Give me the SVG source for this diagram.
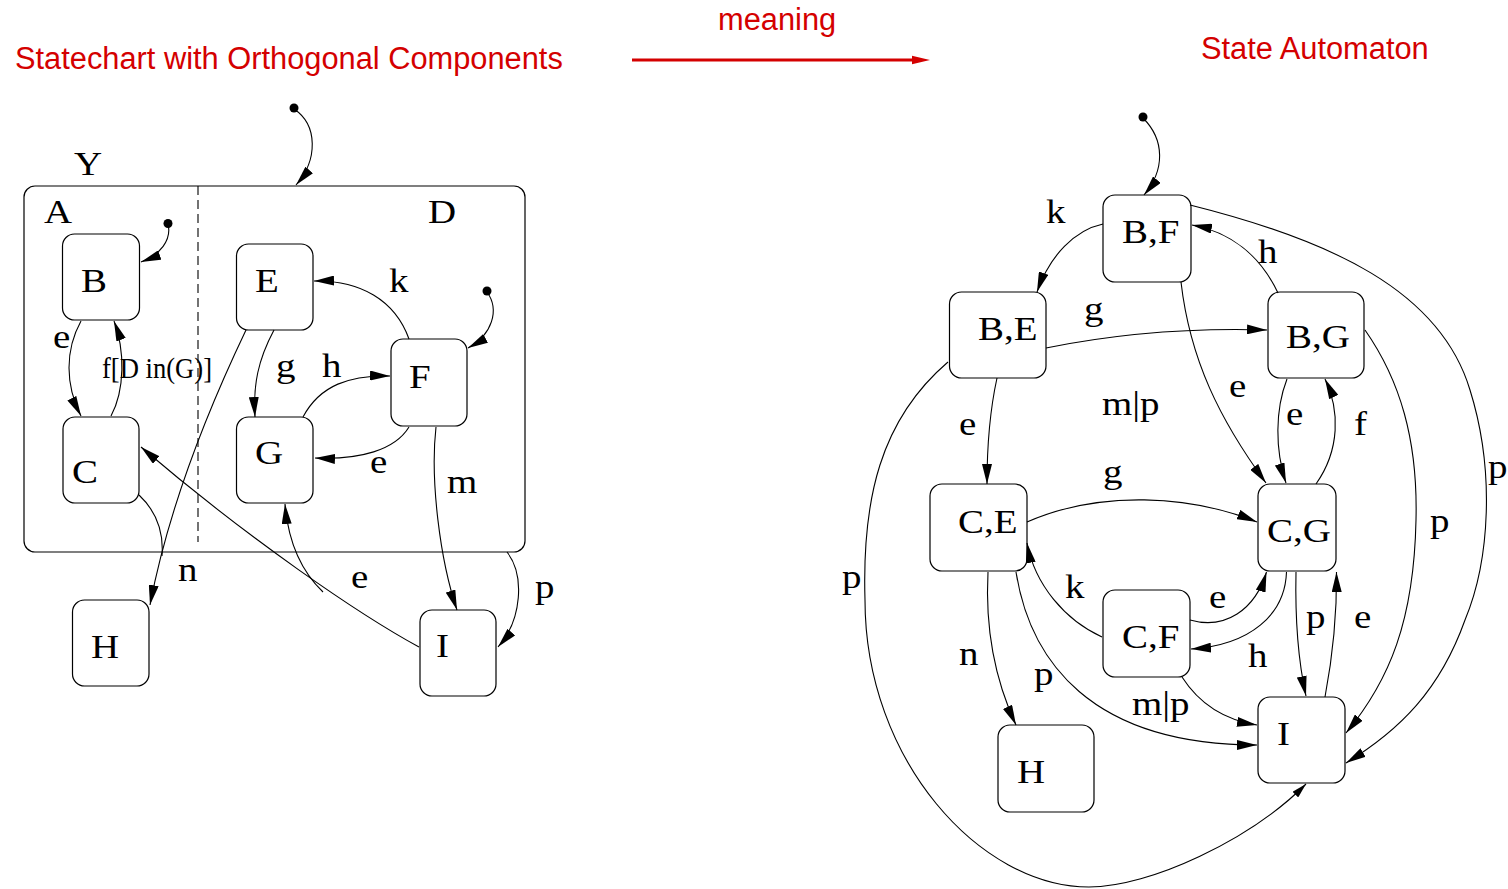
<svg xmlns="http://www.w3.org/2000/svg" width="1508" height="889" viewBox="0 0 1508 889">
<style>
.box{fill:none;stroke:#000;stroke-width:1.2}
.edge{fill:none;stroke:#000;stroke-width:1.1}
.lbl{font-family:"Liberation Serif","Times New Roman",serif;font-size:33px;fill:#000}
.title{font-family:"Liberation Sans",Arial,sans-serif;font-size:30.8px;fill:#d40000}
</style>
<defs>
<marker id="ah" markerUnits="userSpaceOnUse" markerWidth="20" markerHeight="10" refX="20" refY="5" orient="auto">
<path d="M0,0 L20,5 L0,10 z" fill="#000"/>
</marker>
<marker id="ahs" markerUnits="userSpaceOnUse" markerWidth="15" markerHeight="8" refX="15" refY="4" orient="auto">
<path d="M0,0 L15,4 L0,8 z" fill="#000"/>
</marker>
</defs>
<rect x="0" y="0" width="1508" height="889" fill="#fff"/>

<g id="titles">
<text class="title" x="15" y="69">Statechart with Orthogonal Components</text>
<text class="title" x="718" y="30">meaning</text>
<text class="title" x="1201" y="59">State Automaton</text>
<line x1="632" y1="60" x2="914" y2="60" stroke="#d40000" stroke-width="3"/>
<polygon points="930,60 912,55.7 912,64.3" fill="#d40000"/>
</g>

<!-- Left statechart -->
<g id="Y">
<rect class="box" x="24" y="186" width="501" height="366" rx="11"/>
<line x1="198" y1="186" x2="198" y2="542" stroke="#000" stroke-width="1.1" stroke-dasharray="9,5"/>
<text class="lbl" transform="translate(74,175) scale(1.18,1)">Y</text>
<text class="lbl" transform="translate(44,223) scale(1.18,1)">A</text>
<text class="lbl" transform="translate(428,223) scale(1.18,1)">D</text>
</g>
<g id="B"><rect class="box" x="62.5" y="234" width="77" height="86" rx="12"/><text class="lbl" transform="translate(81,292) scale(1.18,1)">B</text></g>
<g id="C"><rect class="box" x="63" y="417" width="76" height="86" rx="12"/><text class="lbl" transform="translate(72,483) scale(1.18,1)">C</text></g>
<g id="E"><rect class="box" x="236.5" y="244" width="76.5" height="86" rx="12"/><text class="lbl" transform="translate(255,292) scale(1.18,1)">E</text></g>
<g id="G"><rect class="box" x="236.5" y="417" width="76.5" height="86" rx="12"/><text class="lbl" transform="translate(255,464) scale(1.18,1)">G</text></g>
<g id="F"><rect class="box" x="391" y="339" width="76" height="87" rx="12"/><text class="lbl" transform="translate(409,388) scale(1.18,1)">F</text></g>
<g id="H"><rect class="box" x="72.5" y="600" width="76.5" height="86" rx="12"/><text class="lbl" transform="translate(91,658) scale(1.18,1)">H</text></g>
<g id="I"><rect class="box" x="420" y="610" width="76" height="86" rx="12"/><text class="lbl" transform="translate(436,657) scale(1.18,1)">I</text></g>

<!-- Right automaton -->
<g id="BF"><rect class="box" x="1103" y="195" width="88" height="87" rx="12"/><text class="lbl" transform="translate(1122,243) scale(1.18,1)">B,F</text></g>
<g id="BE"><rect class="box" x="949.5" y="292" width="96.5" height="86" rx="12"/><text class="lbl" transform="translate(978,340) scale(1.18,1)">B,E</text></g>
<g id="BG"><rect class="box" x="1268" y="292" width="96" height="86" rx="12"/><text class="lbl" transform="translate(1286,348) scale(1.18,1)">B,G</text></g>
<g id="CE"><rect class="box" x="930" y="484" width="97" height="87" rx="12"/><text class="lbl" transform="translate(958,533) scale(1.18,1)">C,E</text></g>
<g id="CG"><rect class="box" x="1258" y="484" width="78" height="87" rx="12"/><text class="lbl" transform="translate(1267,542) scale(1.18,1)">C,G</text></g>
<g id="CF"><rect class="box" x="1103" y="590" width="87" height="87" rx="12"/><text class="lbl" transform="translate(1122,648) scale(1.18,1)">C,F</text></g>
<g id="H2"><rect class="box" x="998" y="725" width="96" height="87" rx="12"/><text class="lbl" transform="translate(1017,783) scale(1.18,1)">H</text></g>
<g id="I2"><rect class="box" x="1258" y="697" width="87" height="86" rx="12"/><text class="lbl" transform="translate(1277,745) scale(1.18,1)">I</text></g>

<g id="connectors">
<!-- left -->
<circle cx="294" cy="108" r="4.5" fill="#000"/>
<path class="edge" d="M294,109 C318,125 318,160 296,185" marker-end="url(#ah)"/>
<circle cx="168" cy="223.5" r="4.5" fill="#000"/>
<path class="edge" d="M168,224 C172,240 160,255 141,262" marker-end="url(#ah)"/>
<circle cx="487" cy="291" r="4.5" fill="#000"/>
<path class="edge" d="M487,292 C500,310 492,335 468,348" marker-end="url(#ah)"/>
<path class="edge" d="M409,339 C395,300 360,280 314,281" marker-end="url(#ah)"/>
<path class="edge" d="M81,321 C65,350 65,385 81,416" marker-end="url(#ah)"/>
<path class="edge" d="M111,416 C125,390 125,350 114,321" marker-end="url(#ah)"/>
<path class="edge" d="M246,330 C215,395 170,500 150,605" marker-end="url(#ah)"/>
<path class="edge" d="M139,495 C155,510 164,530 162,556"/>
<path class="edge" d="M274,330 C258,360 253,385 255,417" marker-end="url(#ah)"/>
<path class="edge" d="M303,417 C320,385 350,375 390,376" marker-end="url(#ah)"/>
<path class="edge" d="M409,427 C395,450 360,460 315,458" marker-end="url(#ah)"/>
<path class="edge" d="M436,427 C430,480 440,560 457,610" marker-end="url(#ah)"/>
<path class="edge" d="M419,647 C360,615 250,540 141,447" marker-end="url(#ah)"/>
<path class="edge" d="M323,592 C300,570 288,540 285,504" marker-end="url(#ah)"/>
<path class="edge" d="M507,552 C525,575 522,620 498,647" marker-end="url(#ah)"/>
<!-- right -->
<circle cx="1143" cy="117" r="4.5" fill="#000"/>
<path class="edge" d="M1143,118 C1165,140 1165,170 1144,195" marker-end="url(#ah)"/>
<path class="edge" d="M1103,224 C1075,230 1050,255 1037,292" marker-end="url(#ah)"/>
<path class="edge" d="M1278,293 C1260,255 1230,232 1192,225" marker-end="url(#ah)"/>
<path class="edge" d="M1046,348 C1120,333 1200,328 1267,330" marker-end="url(#ah)"/>
<path class="edge" d="M1181,282 C1190,360 1220,420 1266,483" marker-end="url(#ah)"/>
<path class="edge" d="M1287,379 C1275,410 1275,450 1286,483" marker-end="url(#ah)"/>
<path class="edge" d="M1316,484 C1340,450 1340,410 1325,379" marker-end="url(#ah)"/>
<path class="edge" d="M997,378 C990,410 987,440 987,484" marker-end="url(#ah)"/>
<path class="edge" d="M1027,522 C1100,490 1190,495 1257,522" marker-end="url(#ah)"/>
<path class="edge" d="M1102,637 C1065,620 1035,585 1027,543" marker-end="url(#ah)"/>
<path class="edge" d="M1190,620 C1225,630 1255,610 1266.5,572" marker-end="url(#ah)"/>
<path class="edge" d="M1286.5,572 C1285,615 1250,645 1191,649" marker-end="url(#ah)"/>
<path class="edge" d="M1296,572 C1295,620 1298,660 1306,696" marker-end="url(#ah)"/>
<path class="edge" d="M1325,697 C1332,660 1337,620 1336.5,572" marker-end="url(#ah)"/>
<path class="edge" d="M1182,677 C1200,705 1225,720 1257,725" marker-end="url(#ah)"/>
<path class="edge" d="M1016,572 C1030,660 1090,745 1257,745" marker-end="url(#ah)"/>
<path class="edge" d="M988,572 C985,630 995,680 1016,725" marker-end="url(#ah)"/>
<path class="edge" d="M1365,330 C1400,380 1418,440 1416,520 C1414,620 1390,680 1346,733" marker-end="url(#ah)"/>
<path class="edge" d="M1190,205 C1330,240 1440,290 1470,390 C1495,470 1490,560 1465,620 C1440,690 1400,730 1346,763" marker-end="url(#ah)"/>
<path class="edge" d="M948,362 C880,420 862,500 865,600 C865,760 980,887 1089,887 C1150,887 1250,840 1306,784" marker-end="url(#ahs)"/>
</g>

<g id="edge-labels">
<text class="lbl" transform="translate(53,348) scale(1.18,1)">e</text>
<text class="lbl" x="102" y="378" style="font-size:30px" textLength="110" lengthAdjust="spacingAndGlyphs">f[D in(G)]</text>
<text class="lbl" transform="translate(276,377) scale(1.18,1)">g</text>
<text class="lbl" transform="translate(322,377) scale(1.18,1)">h</text>
<text class="lbl" transform="translate(389,292) scale(1.18,1)">k</text>
<text class="lbl" transform="translate(370,473) scale(1.18,1)">e</text>
<text class="lbl" transform="translate(447,493) scale(1.18,1)">m</text>
<text class="lbl" transform="translate(178,581) scale(1.18,1)">n</text>
<text class="lbl" transform="translate(351,588) scale(1.18,1)">e</text>
<text class="lbl" transform="translate(535,598) scale(1.18,1)">p</text>

<text class="lbl" transform="translate(1046,223) scale(1.18,1)">k</text>
<text class="lbl" transform="translate(1258,263) scale(1.18,1)">h</text>
<text class="lbl" transform="translate(1084,320) scale(1.18,1)">g</text>
<text class="lbl" transform="translate(1229,397) scale(1.18,1)">e</text>
<text class="lbl" transform="translate(1286,425) scale(1.18,1)">e</text>
<text class="lbl" transform="translate(1354,435) scale(1.18,1)">f</text>
<text class="lbl" transform="translate(1102,415) scale(1.18,1)">m|p</text>
<text class="lbl" transform="translate(959,435) scale(1.18,1)">e</text>
<text class="lbl" transform="translate(1103,483) scale(1.18,1)">g</text>
<text class="lbl" transform="translate(1065,598) scale(1.18,1)">k</text>
<text class="lbl" transform="translate(1209,608) scale(1.18,1)">e</text>
<text class="lbl" transform="translate(1248,667) scale(1.18,1)">h</text>
<text class="lbl" transform="translate(1306,628) scale(1.18,1)">p</text>
<text class="lbl" transform="translate(1354,628) scale(1.18,1)">e</text>
<text class="lbl" transform="translate(1132,715) scale(1.18,1)">m|p</text>
<text class="lbl" transform="translate(1034,685) scale(1.18,1)">p</text>
<text class="lbl" transform="translate(959,665) scale(1.18,1)">n</text>
<text class="lbl" transform="translate(1430,532) scale(1.18,1)">p</text>
<text class="lbl" transform="translate(1488,478) scale(1.18,1)">p</text>
<text class="lbl" transform="translate(842,588) scale(1.18,1)">p</text>
</g>
</svg>
